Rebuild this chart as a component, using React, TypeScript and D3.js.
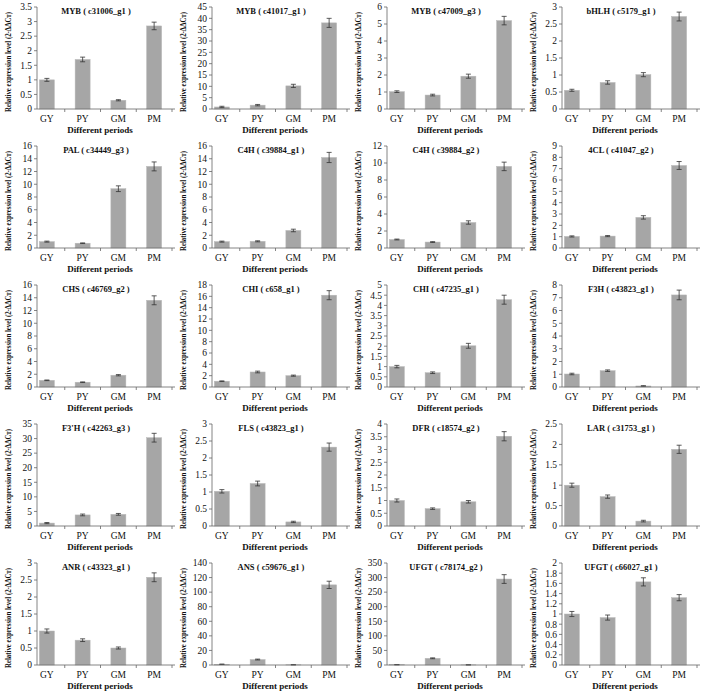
import React from "react";
import * as d3 from "d3";

const categories = ["GY", "PY", "GM", "PM"];

const geneTitles = [
  "MYB ( c31006_g1 )", "MYB ( c41017_g1 )", "MYB ( c47009_g3 )", "bHLH ( c5179_g1 )",
  "PAL ( c34449_g3 )", "C4H ( c39884_g1 )", "C4H ( c39884_g2 )", "4CL ( c41047_g2 )",
  "CHS ( c46769_g2 )", "CHI ( c658_g1 )", "CHI ( c47235_g1 )", "F3H ( c43823_g1 )",
  "F3'H ( c42263_g3 )", "FLS ( c43823_g1 )", "DFR ( c18574_g2 )", "LAR ( c31753_g1 )",
  "ANR ( c43323_g1 )", "ANS ( c59676_g1 )", "UFGT ( c78174_g2 )", "UFGT ( c66027_g1 )",
];

const axisMax = [3.5, 45, 6, 3, 16, 16, 12, 9, 16, 18, 5, 8, 35, 3, 4, 2.5, 3, 140, 350, 2];
const axisStep = [0.5, 5, 1, 0.5, 2, 2, 2, 1, 2, 2, 0.5, 1, 5, 0.5, 0.5, 0.5, 0.5, 20, 50, 0.2];

const means = [
  [1.0, 1.7, 0.3, 2.85],
  [0.9, 1.7, 10.2, 38],
  [1.02, 0.82, 1.93, 5.2],
  [0.55, 0.78, 1.01, 2.72],
  [1.0, 0.75, 9.3, 12.8],
  [1.0, 1.05, 2.75, 14.2],
  [1.0, 0.7, 3.0, 9.6],
  [1.02, 1.05, 2.7, 7.28],
  [1.05, 0.75, 1.85, 13.6],
  [1.02, 2.65, 2.0, 16.2],
  [1.0, 0.7, 2.02, 4.28],
  [1.02, 1.28, 0.08, 7.22],
  [1.0, 3.8, 4.0, 30.3],
  [1.02, 1.25, 0.12, 2.32],
  [1.0, 0.68, 0.95, 3.52],
  [1.0, 0.72, 0.12, 1.88],
  [1.0, 0.73, 0.5, 2.58],
  [1.0, 7.5, 0.3, 110],
  [1.0, 23, 0.5, 295],
  [1.0, 0.93, 1.63, 1.32],
];

const errors = [
  [0.05, 0.08, 0.02, 0.13],
  [0.3, 0.3, 0.7, 2.0],
  [0.05, 0.05, 0.12, 0.25],
  [0.03, 0.05, 0.06, 0.13],
  [0.08, 0.05, 0.45, 0.7],
  [0.08, 0.08, 0.2, 0.8],
  [0.05, 0.05, 0.2, 0.5],
  [0.05, 0.05, 0.15, 0.35],
  [0.05, 0.05, 0.1, 0.7],
  [0.06, 0.15, 0.1, 0.8],
  [0.06, 0.04, 0.12, 0.22],
  [0.06, 0.06, 0.02, 0.38],
  [0.2, 0.3, 0.3, 1.5],
  [0.05, 0.07, 0.02, 0.12],
  [0.06, 0.03, 0.05, 0.18],
  [0.05, 0.04, 0.02, 0.1],
  [0.06, 0.04, 0.03, 0.13],
  [0.3, 0.6, 0.1, 5],
  [0.3, 1.5, 0.2, 15],
  [0.05, 0.05, 0.08, 0.06],
];

const yLabel = "Relative expression level (2-ΔΔCт)";
const xLabel = "Different periods";

const FONT = "'Liberation Serif', 'Times New Roman', serif";
const BAR = "#a6a6a6";
const AXIS = "#666";

function Panel({ idx }: { idx: number }) {
  const col = idx % 4;
  const row = Math.floor(idx / 4);
  const x0 = 37 + col * 175;
  const y0 = row * 139;
  const zeroY = y0 + 109;
  const topY = y0 + 7;

  const y = d3.scaleLinear().domain([0, axisMax[idx]]).range([zeroY, topY]);
  const x = d3.scalePoint<string>().domain(categories).range([x0 - 8, x0 + 135]).padding(0.5);
  const step = x.step();
  const bw = 15;
  const nT = Math.round(axisMax[idx] / axisStep[idx]);
  const ticks = d3.range(0, nT + 1).map((i) => Math.round(i * axisStep[idx] * 1000) / 1000);

  return (
    <g>
      {categories.map((c, i) => {
        const v = means[idx][i];
        const e = errors[idx][i];
        const cx = x(c)!;
        return (
          <g key={c}>
            <rect x={cx - bw / 2} y={y(v)} width={bw} height={zeroY - y(v)} fill={BAR} stroke="#b8b8b8" strokeWidth={0.5} />
            <line x1={cx} x2={cx} y1={y(v + e)} y2={y(Math.max(0, v - e))} stroke="#333" strokeWidth={0.8} />
            <line x1={cx - 2.5} x2={cx + 2.5} y1={y(v + e)} y2={y(v + e)} stroke="#333" strokeWidth={0.8} />
            <line x1={cx - 2.5} x2={cx + 2.5} y1={y(Math.max(0, v - e))} y2={y(Math.max(0, v - e))} stroke="#333" strokeWidth={0.8} />
          </g>
        );
      })}
      <line x1={x0} x2={x0} y1={topY} y2={zeroY} stroke={AXIS} strokeWidth={0.8} />
      {ticks.map((t) => (
        <g key={t}>
          <line x1={x0 - 3} x2={x0} y1={y(t)} y2={y(t)} stroke={AXIS} strokeWidth={0.8} />
          <text x={x0 - 5} y={y(t)} dy="0.35em" textAnchor="end" fontSize={9.5} fontFamily={FONT} fill="#111">
            {String(t)}
          </text>
        </g>
      ))}
      <line x1={x0} x2={x0 + 138} y1={zeroY} y2={zeroY} stroke={AXIS} strokeWidth={0.8} />
      {categories.map((c) => (
        <g key={c}>
          <line x1={x(c)! + step / 2} x2={x(c)! + step / 2} y1={zeroY} y2={zeroY + 3} stroke={AXIS} strokeWidth={0.8} />
          <text x={x(c)!} y={y0 + 122} textAnchor="middle" fontSize={9.5} fontFamily={FONT} fill="#111">
            {c}
          </text>
        </g>
      ))}
      <text x={x0 + 63} y={y0 + 133} textAnchor="middle" fontSize={9} fontWeight="bold" fontFamily={FONT} fill="#111">
        {xLabel}
      </text>
      <text x={x0 + 59} y={y0 + 14} textAnchor="middle" fontSize={8.5} fontWeight="bold" fontFamily={FONT} fill="#111">
        {geneTitles[idx]}
      </text>
      <text
        transform={`translate(${x0 - 29},${y0 + 62}) rotate(-90) scale(1,1.2)`}
        textAnchor="middle"
        dy="0.32em"
        fontSize={6.8}
        fontWeight="bold"
        fontFamily={FONT}
        fill="#111"
        textLength={100}
        lengthAdjust="spacingAndGlyphs"
      >
        {yLabel}
      </text>
    </g>
  );
}

export default function App() {
  return (
    <svg width={708} height={695} style={{ position: "absolute", left: 0, top: 0, background: "#fff" }}>
      <rect width={708} height={695} fill="#fff" />
      {geneTitles.map((_, i) => (
        <Panel key={i} idx={i} />
      ))}
    </svg>
  );
}
